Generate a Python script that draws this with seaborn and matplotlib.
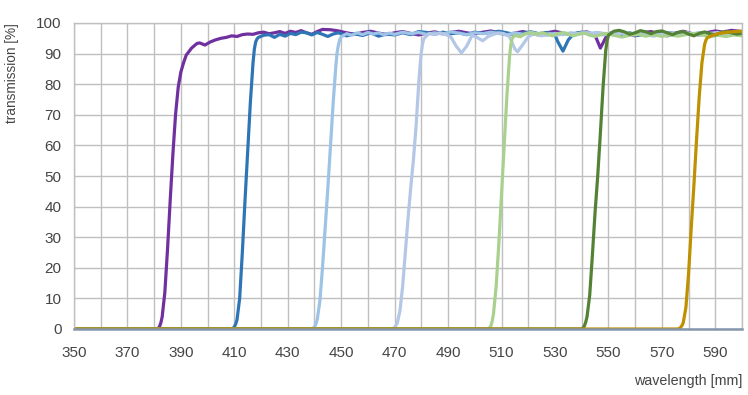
import numpy as np
import pandas as pd
import matplotlib
matplotlib.use('Agg')
import matplotlib.pyplot as plt
import seaborn as sns

# transmission curves, (wavelength, transmission %)
purple = [(350, 0), (381, 0), (381.5, 0.2), (382, 0.8), (382.5, 2), (383, 4), (384, 12), (385, 26),
          (386, 42), (387, 57), (388, 70), (389, 79), (390, 84), (391, 87), (392, 89.5), (394, 91.8),
          (396, 93.3), (397, 93.5), (399, 92.8), (401, 93.8), (403, 94.5), (405, 95), (407, 95.3),
          (409, 95.8), (411, 95.6), (413, 96.2), (415, 96.4), (417, 96.3), (419, 96.8), (421, 97),
          (423, 96.5), (425, 96.8), (427, 97.2), (429, 96.6), (431, 97.3), (433, 96.9), (435, 97.5),
          (437, 96.8), (439, 96.3), (441, 97.2), (443, 97.9), (446, 97.8), (449, 97.4), (452, 96.8),
          (455, 96.3), (458, 96.9), (461, 97.3), (464, 96.7), (467, 96.2), (470, 96.8), (473, 97.2),
          (476, 96.6), (479, 96.1), (482, 96.7), (485, 97.1), (488, 96.5), (491, 96.9), (494, 97.3),
          (497, 96.8), (500, 96.4), (503, 97), (506, 97.4), (509, 96.8), (512, 96.2), (515, 96.7),
          (518, 97.2), (521, 96.6), (524, 96.1), (527, 96.8), (530, 97.3), (533, 96.7), (536, 96.2),
          (539, 96.8), (542, 97.1), (545, 96), (547, 91.8), (549, 95.2), (551, 96.8), (554, 97.3),
          (557, 96.6), (560, 95.8), (563, 96.9), (566, 97.2), (569, 96.5), (572, 95.8), (575, 96.7),
          (578, 97.3), (581, 96.6), (584, 96.1), (587, 96.9), (590, 97.4), (593, 97), (596, 97.6),
          (600, 97.2)]

dark_blue = [(350, 0), (409, 0), (409.5, 0.2), (410, 0.7), (410.5, 1.6), (411, 3), (412, 10),
             (413, 25), (414, 42), (415, 58), (416, 74), (417, 87), (417.5, 91.5), (418, 93.8),
             (418.5, 94.8), (419, 95.3), (421, 96), (423, 96.2), (425, 95.3), (427, 96.3), (429, 95.7),
             (431, 96.6), (433, 96.2), (435, 97), (437, 96.8), (439, 96.1), (441, 96.9), (443, 96.3),
             (445, 95.6), (447, 96.4), (449, 96.8), (452, 95.8), (455, 96.5), (458, 95.9), (461, 96.8),
             (464, 95.7), (467, 96.4), (470, 96.1), (473, 96.8), (476, 96.2), (479, 97.2), (482, 96.9),
             (485, 96.3), (488, 97), (491, 96.5), (494, 96.8), (497, 96.2), (500, 97), (503, 96.6),
             (506, 96.9), (509, 97.3), (512, 96.8), (515, 96.2), (518, 96.7), (521, 97.1), (524, 96.5),
             (527, 96.9), (530, 96.2), (531, 94), (533, 90.8), (535, 94.5), (537, 96.5), (540, 97),
             (543, 96.4), (546, 96.8), (549, 96.2), (552, 96.7), (555, 96.1), (558, 96.8), (561, 95.9),
             (564, 96.5), (567, 96), (570, 96.6), (573, 96.9), (576, 96.3), (579, 96.8), (582, 96.2),
             (585, 96.7), (588, 96.3), (591, 96.9), (594, 96.5), (597, 96.8), (600, 96.6)]

light_blue = [(350, 0), (439, 0), (439.5, 0.2), (440, 0.7), (440.5, 1.6), (441, 3), (442, 9),
              (443, 20), (444, 33), (445, 46), (446, 60), (447, 74), (448, 86), (448.5, 90.5),
              (449, 93), (449.5, 94.6), (450, 95.5), (452, 96.5), (454, 96), (456, 96.8), (458, 96.2),
              (460, 96.9), (462, 96.4), (464, 96.8), (466, 96.1), (468, 96.7), (470, 96.3), (473, 97),
              (476, 96.5), (479, 96.9), (482, 96.3), (485, 96.8), (488, 96.4), (491, 97.1), (494, 96.7),
              (497, 96.2), (500, 96.8), (503, 96.5), (506, 97), (509, 96.6), (512, 96.1), (515, 96.8),
              (518, 96.3), (521, 96.9), (524, 96.4), (527, 96), (530, 96.6), (533, 96.2), (536, 96.8),
              (539, 96.4), (542, 96.9), (545, 96.5), (548, 96.1), (551, 96.7), (554, 97), (557, 96.5),
              (560, 96.1), (563, 96.8), (566, 96.4), (569, 96), (572, 96.6), (575, 96.2), (578, 96.8),
              (581, 96.3), (584, 96.9), (587, 96.5), (590, 96.1), (593, 96.7), (596, 96.3), (600, 96.6)]

pale_blue = [(350, 0), (469, 0), (469.5, 0.2), (470, 0.6), (470.5, 1.2), (471, 2), (472, 6),
             (473, 14), (474, 25), (475, 36), (476, 46), (477, 55), (478, 66), (479, 80), (479.5, 86),
             (480, 90.5), (480.5, 93.5), (481, 95), (483, 96.6), (485, 96.2), (487, 96.8), (489, 96.3),
             (491, 95.5), (493, 92.5), (495, 90.2), (497, 92.5), (499, 96), (501, 95.2), (503, 94.2),
             (505, 95.6), (507, 96.3), (509, 96.8), (511, 96.5), (513, 95.5), (515, 91.5), (516, 90.6),
             (518, 93), (520, 95.5), (522, 96.4), (525, 95.8), (528, 96.5), (531, 96), (534, 96.7),
             (537, 96.2), (540, 96.8), (543, 96.4), (546, 96.9), (549, 96.5), (552, 96.1), (555, 96.7),
             (558, 96.3), (561, 96.8), (564, 96.2), (567, 95.7), (570, 96.4), (573, 96.8), (576, 96.3),
             (579, 96.9), (582, 96.4), (585, 96), (588, 96.6), (591, 96.9), (594, 96.4), (597, 96.8),
             (600, 96.5)]

light_green = [(350, 0), (505, 0), (505.5, 0.3), (506, 1), (506.5, 2.5), (507, 5), (508, 14),
               (509, 28), (510, 44), (511, 60), (512, 76), (513, 89), (513.5, 93), (514, 95),
               (515, 96), (517, 95.5), (519, 96.5), (521, 96.9), (523, 96.3), (525, 96.8), (527, 96.4),
               (529, 95.8), (531, 96.5), (533, 96.9), (535, 96.3), (537, 95.8), (539, 96.4), (541, 96.7),
               (543, 96), (545, 95.6), (547, 96.2), (549, 96.6), (552, 96), (555, 95.4), (558, 96),
               (561, 96.3), (564, 95.7), (567, 96.2), (570, 95.6), (573, 96.1), (576, 95.7), (579, 96.2),
               (582, 96.6), (585, 96.1), (588, 95.5), (591, 96), (594, 95.6), (597, 96.1), (600, 95.8)]

dark_green = [(350, 0), (540, 0), (540.5, 0.3), (541, 1), (541.5, 2.2), (542, 4), (543, 11),
              (544, 24), (545, 38), (546, 50), (547, 64), (548, 79), (549, 91), (549.5, 94.2),
              (550, 96), (552, 97.3), (554, 97.6), (556, 97.1), (558, 96.3), (560, 96.8), (562, 97.5),
              (564, 97.1), (566, 96.5), (568, 97.2), (570, 97.4), (572, 96.8), (574, 96.2), (576, 96.9),
              (578, 97.2), (580, 96.4), (582, 95.8), (584, 96.6), (586, 97.1), (588, 96.5), (590, 96.1),
              (592, 96.8), (594, 97.3), (596, 96.8), (598, 96.4), (600, 96.6)]

gold = [(350, 0), (576, 0), (576.5, 0.15), (577, 0.5), (577.5, 1.1), (578, 2), (579, 7), (580, 18),
        (581, 33), (582, 47), (583, 62), (584, 76), (585, 87), (586, 93), (586.5, 94.4), (587, 95.2),
        (589, 96), (591, 96.5), (593, 96.8), (595, 97), (597, 97.2), (600, 97.3)]

series = {'purple': purple, 'dark_blue': dark_blue, 'light_blue': light_blue,
          'pale_blue': pale_blue, 'light_green': light_green, 'dark_green': dark_green,
          'gold': gold}
colors = {'purple': '#7030a0', 'dark_blue': '#2e75b6', 'light_blue': '#9dc3e6',
          'pale_blue': '#b4c7e7', 'light_green': '#a9d18e', 'dark_green': '#548235',
          'gold': '#bf9000'}

x_ticks = list(range(350, 601, 10))
y_ticks = list(range(0, 101, 10))

rows = []
for name, pts in series.items():
    for wl, t in pts:
        rows.append({'filter': name, 'wavelength': wl, 'transmission': t})
df = pd.DataFrame(rows)

sns.set_style('white')
plt.rcParams['font.family'] = ['Liberation Sans', 'DejaVu Sans']
text_color = '#454545'

fig = plt.figure(figsize=(7.48, 3.95), dpi=100)
ax = fig.add_axes([74 / 748, 1 - 329 / 395, (742 - 74) / 748, (329 - 23) / 395])

sns.lineplot(data=df, x='wavelength', y='transmission', hue='filter', palette=colors,
             hue_order=list(series.keys()), estimator=None, sort=True, linewidth=2.3,
             legend=False, ax=ax)

ax.set_xlim(350, 600)
ax.set_ylim(0, 100)
ax.set_xticks(x_ticks)
ax.set_xticklabels([str(v) if (v - 350) % 20 == 0 else '' for v in x_ticks])
ax.set_yticks(y_ticks)
ax.grid(True, color='#bfbfbf', linewidth=1.0)
ax.set_axisbelow(True)
ax.tick_params(axis='both', length=0, labelsize=11, labelcolor=text_color)
ax.tick_params(axis='x', pad=12)
ax.tick_params(axis='y', pad=9)

for side in ['top', 'right', 'left']:
    ax.spines[side].set_color('#bfbfbf')
    ax.spines[side].set_linewidth(1.0)
ax.spines['bottom'].set_color('#8496ac')
ax.spines['bottom'].set_linewidth(1.8)
ax.spines['bottom'].set_zorder(5)

ax.set_xlabel('')
ax.set_ylabel('')
fig.text(12 / 748, 1 - 73 / 395, 'transmission [%]', rotation=90, ha='center', va='center',
         fontsize=9.8, color=text_color)
fig.text(742 / 748, 1 - 381 / 395, 'wavelength [mm]', ha='right', va='center',
         fontsize=10.3, color=text_color)

fig.savefig('out.png', dpi=100)
